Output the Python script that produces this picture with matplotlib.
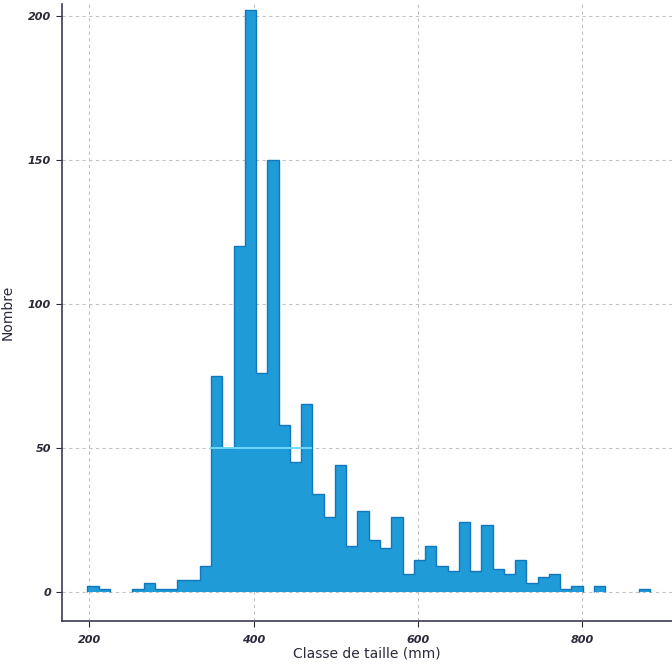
"""Histogramme des classes de taille (mm)."""
import numpy as np
import matplotlib
matplotlib.use('Agg')
import matplotlib.pyplot as plt

# classes de taille : premiere borne et largeur de classe (mm)
first_edge = 197.5
bin_width = 13.7

# effectif par classe
counts = [
    2, 1, 0, 0, 1, 3, 1, 1, 4, 4,
    9, 75, 50, 120, 202, 76, 150, 58, 45, 65,
    34, 26, 44, 16, 28, 18, 15, 26, 6, 11,
    16, 9, 7, 24, 7, 23, 8, 6, 11, 3,
    5, 6, 1, 2, 0, 2, 0, 0, 0, 1,
]

x_ticks = [200, 400, 600, 800]
y_ticks = [0, 50, 100, 150, 200]
x_label = 'Classe de taille (mm)'
y_label = 'Nombre'

BAR = '#1f9bd7'
EDGE = '#1277bd'
TEXT = '#2a2a3a'


def nonzero_runs(values):
    # indices (debut, fin) des suites de classes non vides
    runs = []
    start = None
    for i, v in enumerate(values):
        if v > 0 and start is None:
            start = i
        if v == 0 and start is not None:
            runs.append((start, i))
            start = None
    if start is not None:
        runs.append((start, len(values)))
    return runs


def main():
    counts_arr = np.array(counts)
    edges = first_edge + bin_width * np.arange(len(counts) + 1)

    fig = plt.figure(figsize=(6.72, 6.68), dpi=100)
    ax = fig.add_axes([0.0923, 0.0704, 0.9077, 0.9236])

    for a, b in nonzero_runs(counts):
        ax.stairs(counts_arr[a:b], edges[a:b + 1], fill=True, color=BAR, zorder=2)
        ax.stairs(counts_arr[a:b], edges[a:b + 1], color=EDGE, lw=1.0, zorder=3)
    # ligne claire a 50 visible au travers des barres
    ax.hlines(50, 347, 471, color='#6fd8f7', lw=1.4, zorder=4)

    ax.set_xlim(166.8, 909)
    ax.set_ylim(-10.2, 204)
    ax.set_xticks(x_ticks)
    ax.set_yticks(y_ticks)

    ax.grid(True, linestyle=(0, (3, 3)), color='#c2c2c2', lw=0.8, zorder=0)
    ax.set_axisbelow(True)

    for side in ['top', 'right']:
        ax.spines[side].set_visible(False)
    for side in ['left', 'bottom']:
        ax.spines[side].set_color('#3a3a55')
        ax.spines[side].set_linewidth(1.2)

    ax.tick_params(axis='both', colors=TEXT, labelsize=8, length=4, width=0.8)
    ax.tick_params(axis='x', pad=6)
    ax.tick_params(axis='y', pad=4)
    for lab in ax.get_xticklabels() + ax.get_yticklabels():
        lab.set_fontstyle('italic')
        lab.set_fontweight('bold')

    ax.set_xlabel(x_label, fontsize=10, color=TEXT)
    ax.set_ylabel(y_label, fontsize=10, color=TEXT)
    ax.xaxis.set_label_coords(0.5, -0.042)
    ax.yaxis.set_label_coords(-0.077, 0.5)

    fig.savefig('out.png', dpi=100)
    plt.close(fig)


if __name__ == '__main__':
    main()
